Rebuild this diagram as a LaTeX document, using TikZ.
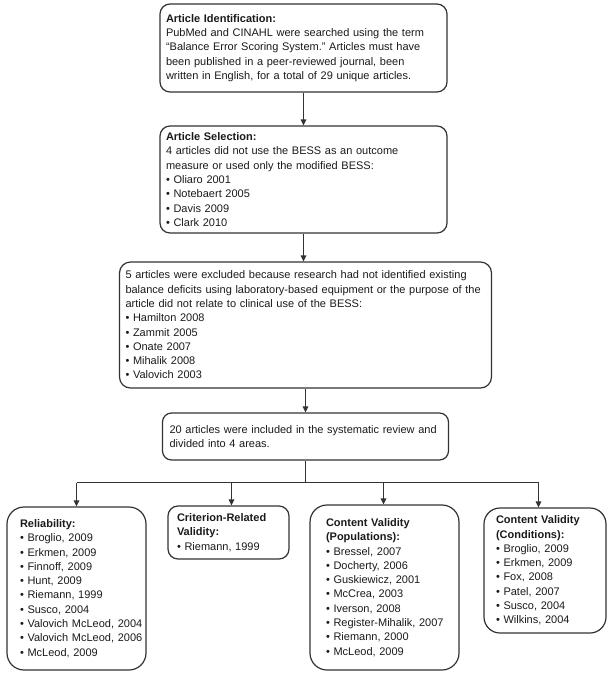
\documentclass[tikz,border=0pt]{standalone}
\usepackage{fontspec}
\setmainfont{Liberation Sans}
\usetikzlibrary{arrows.meta}
\definecolor{lc}{HTML}{333333}
\definecolor{tc}{HTML}{1A1A1A}
\newcommand\li[1]{\mbox{#1}}
\frenchspacing
\begin{document}
\begin{tikzpicture}[x=1pt,y=-1pt,
  box/.style={draw=lc, line width=1.2pt, text=tc, align=left, inner ysep=0pt,
    font=\fontsize{11}{14.3}\selectfont},
  arr/.style={draw=lc, line width=1.2pt, -{Triangle[length=6pt,width=5.5pt]}},
  ln/.style={draw=lc, line width=1.2pt}]
\useasboundingbox (0,0) rectangle (608,673);

\node[box, rounded corners=10pt, inner xsep=6pt, text width=275pt, minimum height=88pt] (b1) at (303.5,48)
{\li{\textbf{Article Identification:}}\\
\li{PubMed and CINAHL were searched using the term}\\
\li{“Balance Error Scoring System.” Articles must have}\\
\li{been published in a peer-reviewed journal, been}\\
\li{written in English, for a total of 29 unique articles.}};

\node[box, rounded corners=10pt, inner xsep=6pt, text width=275pt, minimum height=107pt] (b2) at (303.5,179.5)
{\li{\textbf{Article Selection:}}\\
\li{4 articles did not use the BESS as an outcome}\\
\li{measure or used only the modified BESS:}\\
\li{• Oliaro 2001}\\
\li{• Notebaert 2005}\\
\li{• Davis 2009}\\
\li{• Clark 2010}};

\node[box, rounded corners=11pt, inner xsep=6pt, text width=360pt, minimum height=126pt] (b3) at (305.5,325)
{\li{5 articles were excluded because research had not identified existing}\\
\li{balance deficits using laboratory-based equipment or the purpose of the}\\
\li{article did not relate to clinical use of the BESS:}\\
\li{• Hamilton 2008}\\
\li{• Zammit 2005}\\
\li{• Onate 2007}\\
\li{• Mihalik 2008}\\
\li{• Valovich 2003}};

\node[box, rounded corners=9pt, inner xsep=7pt, text width=272pt, minimum height=47pt] (b4) at (305.5,436.5)
{\li{20 articles were included in the systematic review and}\\
\li{divided into 4 areas.}};

\node[box, rounded corners=17pt, inner xsep=13pt, text width=113pt, minimum height=163pt] (rel) at (76.5,588.5)
{\li{\textbf{Reliability:}}\\
\li{• Broglio, 2009}\\
\li{• Erkmen, 2009}\\
\li{• Finnoff, 2009}\\
\li{• Hunt, 2009}\\
\li{• Riemann, 1999}\\
\li{• Susco, 2004}\\
\li{• Valovich McLeod, 2004}\\
\li{• Valovich McLeod, 2006}\\
\li{• McLeod, 2009}};

\node[box, rounded corners=10pt, inner xsep=9pt, text width=103pt, minimum height=53pt] (crit) at (228.5,532.5)
{\li{\textbf{Criterion-Related}}\\
\li{\textbf{Validity:}}\\
\li{• Riemann, 1999}};

\node[box, rounded corners=17pt, inner xsep=16pt, text width=117pt, minimum height=165pt] (pop) at (384.5,587.5)
{\li{\textbf{Content Validity}}\\
\li{\textbf{(Populations):}}\\
\li{• Bressel, 2007}\\
\li{• Docherty, 2006}\\
\li{• Guskiewicz, 2001}\\
\li{• McCrea, 2003}\\
\li{• Iverson, 2008}\\
\li{• Register-Mihalik, 2007}\\
\li{• Riemann, 2000}\\
\li{• McLeod, 2009}};

\node[box, rounded corners=16pt, inner xsep=12pt, text width=98pt, minimum height=125pt] (cond) at (545,570.5)
{\li{\textbf{Content Validity}}\\
\li{\textbf{(Conditions):}}\\
\li{• Broglio, 2009}\\
\li{• Erkmen, 2009}\\
\li{• Fox, 2008}\\
\li{• Patel, 2007}\\
\li{• Susco, 2004}\\
\li{• Wilkins, 2004}};

\draw[arr] (b1.south) -- (b2.north);
\draw[arr] (b2.south) -- (b2.south |- b3.north);
\draw[arr] (b3.south) -- (b4.north);

\coordinate (sp) at (305.5,482.5);
\coordinate (j1) at (76.5,482.5);
\coordinate (j2) at (231.5,482.5);
\coordinate (j3) at (383.5,482.5);
\coordinate (j4) at (538.5,482.5);
\draw[ln] (b4.south) -- (sp);
\draw[ln] (j1) -- (j4);
\draw[arr] (j1) -- (j1 |- rel.north);
\draw[arr] (j2) -- (j2 |- crit.north);
\draw[arr] (j3) -- (j3 |- pop.north);
\draw[arr] (j4) -- (j4 |- cond.north);
\end{tikzpicture}
\end{document}
